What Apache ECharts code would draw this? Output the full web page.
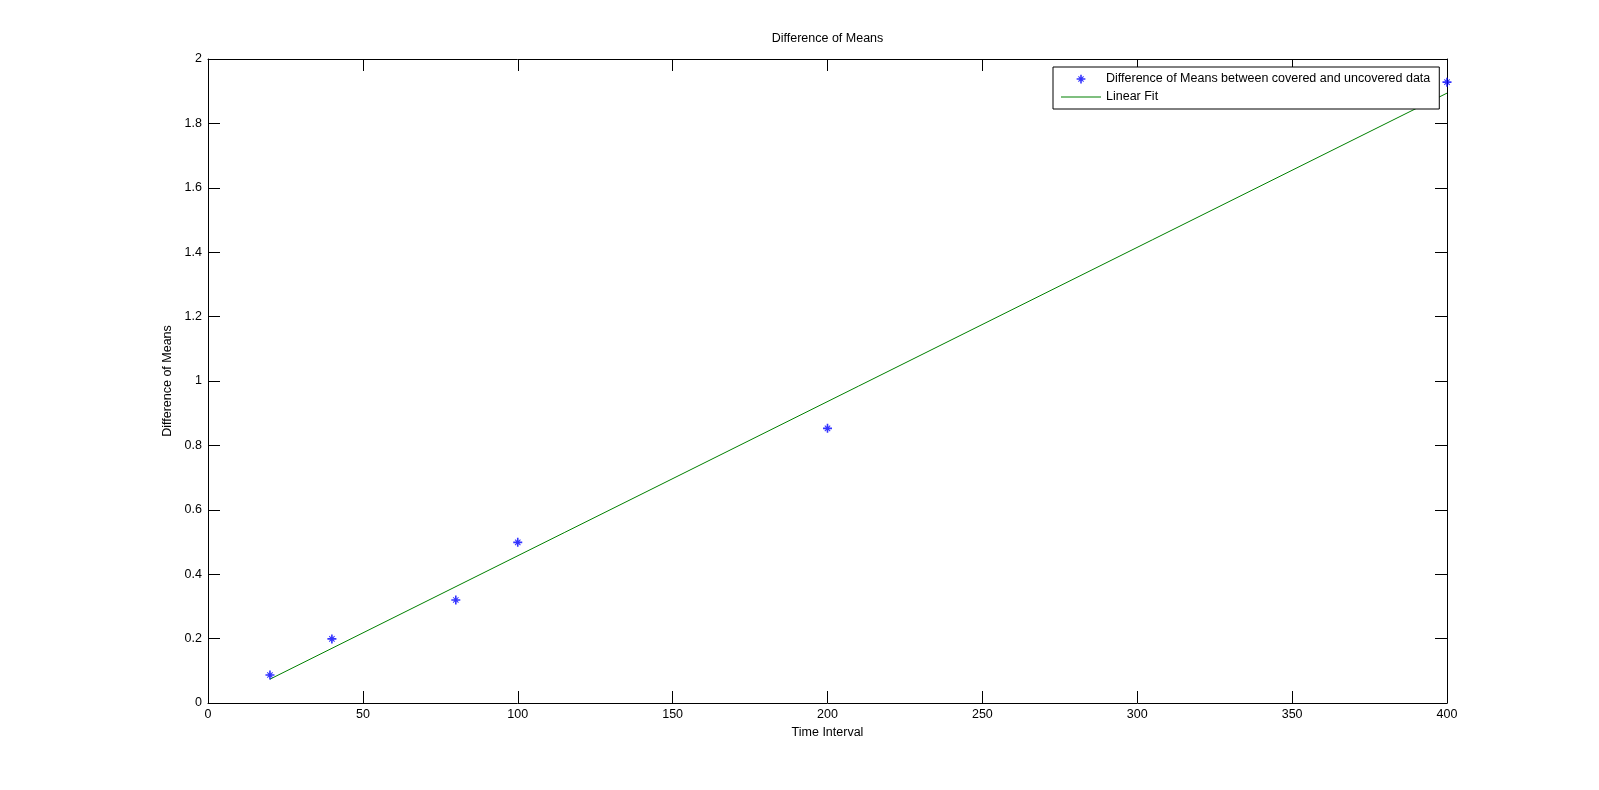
<!DOCTYPE html>
<html>
<head>
<meta charset="utf-8">
<script src="https://cdn.jsdelivr.net/npm/echarts@6/dist/echarts.min.js"></script>
<style>
html,body{margin:0;padding:0;background:#fff;}
#chart{width:1599px;height:790px;}
</style>
</head>
<body>
<div id="chart"></div>
<script>
// Data
const timeIntervals = [20, 40, 80, 100, 200, 400];
const meanDiffs = [0.087, 0.199, 0.32, 0.499, 0.853, 1.928];
const fitX = [20, 400];
const fitY = [0.074, 1.894];
const xTicks = [0, 50, 100, 150, 200, 250, 300, 350, 400];
const yTicks = [0, 0.2, 0.4, 0.6, 0.8, 1, 1.2, 1.4, 1.6, 1.8, 2];
const scatterName = 'Difference of Means between covered and uncovered data';
const fitName = 'Linear Fit';

const FONT = "'Liberation Sans', Arial, Helvetica, sans-serif";
const FS = 12.5;
const starBody = 'M0 4.1L10 4.1L10 5.9L0 5.9Z M4.1 0L5.9 0L5.9 10L4.1 10Z M1.6 2.4L2.4 1.6L8.4 7.6L7.6 8.4Z M7.6 1.6L8.4 2.4L2.4 8.4L1.6 7.6Z';
const star = 'path://' + starBody;
const starPadded = 'path://M-3 -3L-3 -3 M13 13L13 13 ' + starBody;
const lineIcon = 'path://M0 0L40 0L40 1L0 1Z';

const chart = echarts.init(document.getElementById('chart'), null, {renderer: 'canvas'});

const axisCommon = {
  axisLine: {show: true, onZero: false, lineStyle: {color: '#000', width: 1}},
  axisTick: {show: true, inside: true, length: 12, lineStyle: {color: '#000', width: 1}},
  splitLine: {show: false}
};

const option = {
  backgroundColor: '#fff',
  animation: false,
  textStyle: {fontFamily: FONT},
  title: {
    text: 'Difference of Means',
    left: 827.5,
    top: 32,
    padding: 0,
    textAlign: 'center',
    textStyle: {fontFamily: FONT, fontSize: FS, fontWeight: 'normal', color: '#000'}
  },
  grid: {left: 208, right: 152, top: 59, bottom: 87, containLabel: false},
  legend: {
    orient: 'vertical',
    left: 1053,
    top: 67,
    padding: [5, 9, 5, 8],
    itemGap: 4,
    itemWidth: 40,
    itemHeight: 14,
    backgroundColor: '#fff',
    borderColor: '#000',
    borderWidth: 1,
    borderRadius: 0,
    textStyle: {fontFamily: FONT, fontSize: FS, color: '#000', lineHeight: 14},
    data: [
      {name: scatterName, icon: starPadded},
      {name: fitName, icon: lineIcon}
    ]
  },
  xAxis: [
    Object.assign({
      type: 'value', position: 'bottom',
      min: xTicks[0], max: xTicks[xTicks.length - 1], interval: xTicks[1] - xTicks[0],
      name: 'Time Interval', nameLocation: 'middle', nameGap: 20,
      nameTextStyle: {fontFamily: FONT, fontSize: FS, color: '#000'},
      axisLabel: {margin: 5, fontFamily: FONT, fontSize: FS, color: '#000'}
    }, axisCommon),
    Object.assign({
      type: 'value', position: 'top',
      min: xTicks[0], max: xTicks[xTicks.length - 1], interval: xTicks[1] - xTicks[0],
      axisLabel: {show: false}
    }, axisCommon)
  ],
  yAxis: [
    Object.assign({
      type: 'value', position: 'left',
      min: yTicks[0], max: yTicks[yTicks.length - 1], interval: 0.2,
      name: 'Difference of Means', nameLocation: 'middle', nameGap: 28,
      nameTextStyle: {fontFamily: FONT, fontSize: FS, color: '#000'},
      axisLabel: {margin: 6, fontFamily: FONT, fontSize: FS, color: '#000'}
    }, axisCommon),
    Object.assign({
      type: 'value', position: 'right',
      min: yTicks[0], max: yTicks[yTicks.length - 1], interval: 0.2,
      axisLabel: {show: false}
    }, axisCommon)
  ],
  series: [
    {
      name: scatterName,
      type: 'scatter',
      xAxisIndex: 0, yAxisIndex: 0,
      symbol: star,
      symbolSize: 9,
      itemStyle: {color: '#0000ff'},
      data: timeIntervals.map((x, i) => [x, meanDiffs[i]]),
      z: 3
    },
    {
      name: fitName,
      type: 'line',
      xAxisIndex: 0, yAxisIndex: 0,
      symbol: 'none',
      lineStyle: {color: '#008000', width: 1},
      itemStyle: {color: '#008000'},
      data: fitX.map((x, i) => [x, fitY[i]]),
      z: 2
    }
  ]
};
chart.setOption(option);
</script>
</body>
</html>
